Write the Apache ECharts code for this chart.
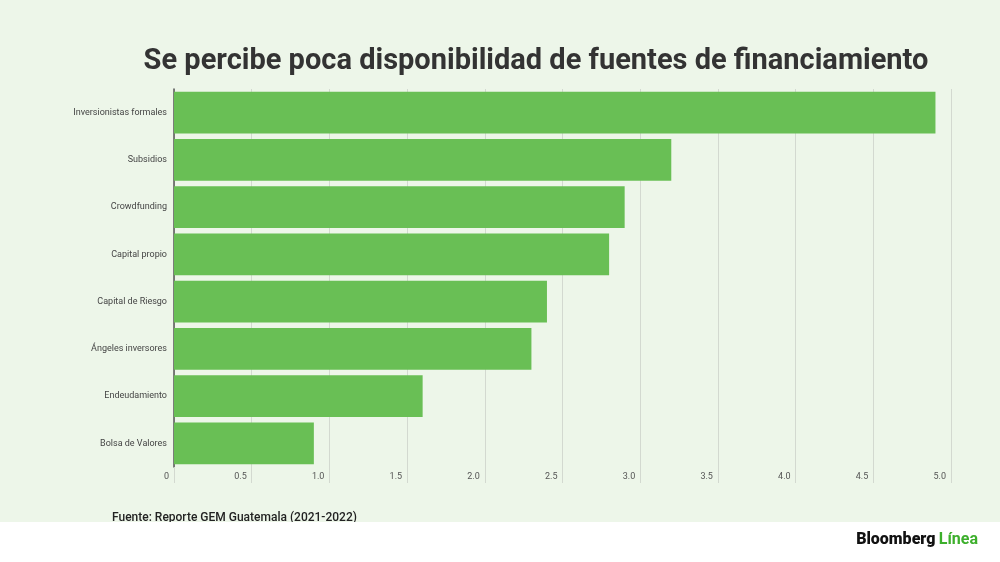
<!DOCTYPE html>
<html>
<head>
<meta charset="utf-8">
<script src="https://cdn.jsdelivr.net/npm/echarts@6/dist/echarts.min.js"></script>
<style>
html,body{margin:0;padding:0;background:#edf6e9;}
#chart{width:1000px;height:562px;}
</style>
</head>
<body>
<div id="chart"></div>
<script>
const categories = ["Inversionistas formales","Subsidios","Crowdfunding","Capital propio","Capital de Riesgo","Ángeles inversores","Endeudamiento","Bolsa de Valores"];
const values = [4.9, 3.2, 2.9, 2.8, 2.4, 2.3, 1.6, 0.9];
const titleText = "Se percibe poca disponibilidad de fuentes de financiamiento";
const sourceText = "Fuente: Reporte GEM Guatemala (2021-2022)";

const chart = echarts.init(document.getElementById('chart'));
chart.setOption({
  backgroundColor: '#edf6e9',
  animation: false,
  title: {
    text: titleText,
    left: 531, top: 42, textAlign: 'center',
    textStyle: {fontFamily: 'Roboto', fontWeight: 'bold', fontSize: 29, color: '#333333'}
  },
  grid: {left: 174, right: 49, top: 89, bottom: 95, containLabel: false},
  xAxis: {
    type: 'value', min: 0, max: 5, interval: 0.5,
    axisLine: {show: false},
    axisTick: {show: true, length: 16, lineStyle: {color: '#d3d9d0', width: 1}},
    splitLine: {show: true, lineStyle: {color: '#d3d9d0', width: 1}},
    axisLabel: {
      margin: 5, align: 'right', padding: [0, 5, 0, 0],
      fontFamily: 'Roboto', fontSize: 9, color: '#555555',
      formatter: v => v === 0 ? '0' : v.toFixed(1)
    }
  },
  yAxis: {
    type: 'category', data: categories, inverse: true,
    axisLine: {show: true, lineStyle: {color: '#555555', width: 1.5}},
    axisTick: {show: false},
    axisLabel: {margin: 7, fontFamily: 'Roboto', fontSize: 9, color: '#444444'}
  },
  series: [{
    type: 'bar', data: values, barCategoryGap: '12%',
    itemStyle: {color: '#69bf55'}
  }],
  graphic: [
    {type: 'text', left: 112, top: 512, z: 10,
      style: {text: sourceText, fontFamily: 'Roboto', fontWeight: 500, fontSize: 12, fill: '#222222'}},
    {type: 'rect', left: 0, top: 522, z: 20, shape: {width: 1000, height: 40}, style: {fill: '#ffffff'}},
    {type: 'text', right: 22, top: 532, z: 30,
      style: {rich: {a: {fontFamily: 'Roboto', fontWeight: 900, fontSize: 16, fill: '#111111'}, b: {fontFamily: 'Roboto', fontWeight: 'bold', fontSize: 16, fill: '#3daf2c'}},
        text: '{a|Bloomberg} {b|Línea}'}}
  ]
});
</script>
</body>
</html>
